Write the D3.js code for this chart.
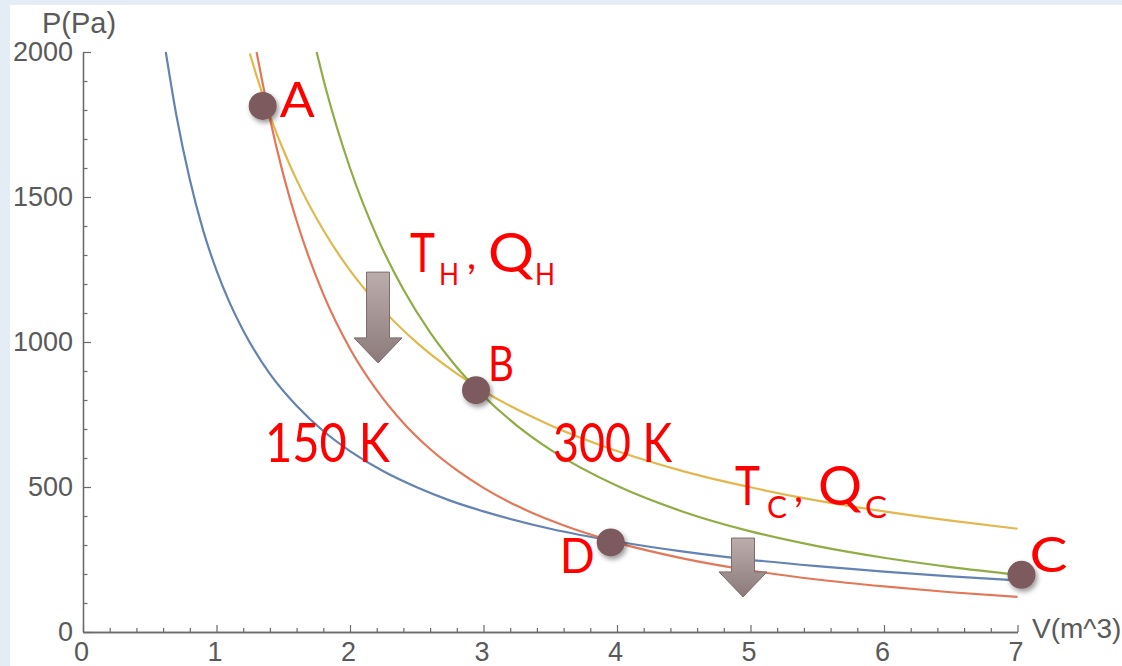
<!DOCTYPE html>
<html>
<head>
<meta charset="utf-8">
<script src="https://cdn.jsdelivr.net/npm/d3@7/dist/d3.min.js"></script>
<style>
  html, body { margin: 0; padding: 0; background: #e4ecf5; }
  svg { display: block; }
</style>
</head>
<body>
<svg id="chart" width="1122" height="666"></svg>
<script>
// ---------------- DATA ----------------
const xTicks = [0, 1, 2, 3, 4, 5, 6, 7];
const yTicks = [0, 500, 1000, 1500, 2000];
const xLabel = "V(m^3)";
const yLabel = "P(Pa)";

// 150 K isotherm (blue)
const vBlue = [0.62, 0.7, 0.8, 0.9, 1.0, 1.1, 1.2, 1.4, 1.6, 1.8, 2.0, 2.25, 2.5, 2.75, 3.0, 3.5, 4.0, 4.5, 5.0, 5.5, 6.0, 6.5, 7.0];
const pBlue = [2000, 1780, 1560, 1385, 1247, 1134, 1040, 890, 780, 693, 624, 554, 499, 453, 416, 356, 312, 277, 249, 227, 208, 192, 178];

// 300 K isotherm (yellow)
const vYellow = [1.25, 1.3, 1.4, 1.5, 1.6, 1.8, 2.0, 2.2, 2.5, 2.8, 3.0, 3.5, 4.0, 4.5, 5.0, 5.5, 6.0, 6.5, 7.0];
const pYellow = [1995, 1918, 1781, 1663, 1559, 1386, 1247, 1134, 998, 891, 831, 713, 624, 554, 499, 453, 416, 384, 356];

// adiabat B-C (green)
const vGreen = [1.75, 1.8, 1.9, 2.0, 2.2, 2.4, 2.6, 2.8, 3.0, 3.25, 3.5, 4.0, 4.5, 5.0, 5.5, 6.0, 6.5, 7.0];
const pGreen = [2000, 1907, 1743, 1600, 1365, 1181, 1033, 913, 814, 712, 629, 504, 414, 347, 296, 256, 224, 198];

// adiabat D-A (red)
const vRed = [1.30, 1.35, 1.4, 1.5, 1.6, 1.8, 2.0, 2.2, 2.4, 2.6, 2.8, 3.0, 3.25, 3.5, 4.0, 4.5, 5.0, 5.5, 6.0, 6.5, 7.0];
const pRed = [2000, 1882, 1771, 1578, 1418, 1165, 977, 834, 721, 631, 558, 497, 435, 385, 308, 253, 212, 181, 157, 137, 121];

// cycle states
const stateNames = ["A", "B", "C", "D"];
const stateV = [1.346, 2.944, 7.03, 3.953];
const stateP = [1814, 834, 197, 309];

// temperature labels (text, V, P)
const tempText = ["150 K", "300 K"];
const tempV = [1.363, 3.521];
const tempP = [586, 586];

// heat labels
const heatMain = ["T", "Q", "T", "Q"];
const heatSub = ["H", "H", "C", "C"];
const heatV = [2.449, 3.034, 4.884, 5.506];
const heatP = [1241, 1241, 438, 438];

// down arrows (V centre, P top, P tip)
const arrowV = [2.21, 4.944];
const arrowTopP = [1241, 324];
const arrowTipP = [928, 121];

// ---------------- CHART ----------------
const svg = d3.select("#chart");
const W = 1122, H = 666;

svg.append("rect").attr("width", W).attr("height", H).attr("fill", "#e4ecf5");
svg.append("rect").attr("x", 10).attr("y", 5).attr("width", W - 10).attr("height", H - 5).attr("fill", "#ffffff");

const defs = svg.append("defs");
const shadow = defs.append("filter").attr("id", "shadow").attr("x", "-50%").attr("y", "-50%").attr("width", "200%").attr("height", "200%");
shadow.append("feDropShadow").attr("dx", 2).attr("dy", 3).attr("stdDeviation", 2.5)
  .attr("flood-color", "#000").attr("flood-opacity", 0.4);
const grad = defs.append("linearGradient").attr("id", "arrowGrad").attr("x1", 0).attr("y1", 0).attr("x2", 0).attr("y2", 1);
grad.append("stop").attr("offset", "0%").attr("stop-color", "#bcadad");
grad.append("stop").attr("offset", "100%").attr("stop-color", "#8c7a7a");

const x = d3.scaleLinear().domain([0, 7]).range([83, 1017.5]);
const y = d3.scaleLinear().domain([0, 2000]).range([632, 52]);

const axisColor = "#6a6a6a";
const tickFont = "'Liberation Sans', Arial, sans-serif";

// minor ticks
const minorX = d3.range(0, 7.0001, 0.2).filter(v => Math.abs(v - Math.round(v)) > 1e-6);
const minorY = d3.range(0, 2000.1, 100).filter(v => v % 500 !== 0);

const gxMinor = svg.append("g").attr("transform", `translate(0,${y(0)})`)
  .call(d3.axisBottom(x).tickValues(minorX).tickSizeInner(-4).tickSizeOuter(0).tickFormat(""));
const gyMinor = svg.append("g").attr("transform", `translate(${x(0)},0)`)
  .call(d3.axisLeft(y).tickValues(minorY).tickSizeInner(-4.5).tickSizeOuter(0).tickFormat(""));

const gx = svg.append("g").attr("transform", `translate(0,${y(0)})`)
  .call(d3.axisBottom(x).tickValues(xTicks).tickSizeInner(-7).tickSizeOuter(0).tickPadding(10).tickFormat(d3.format("d")));
const gy = svg.append("g").attr("transform", `translate(${x(0)},0)`)
  .call(d3.axisLeft(y).tickValues(yTicks).tickSizeInner(-8).tickSizeOuter(0).tickPadding(10).tickFormat(d3.format("d")));

[gxMinor, gyMinor, gx, gy].forEach(g => {
  g.selectAll("path.domain").attr("stroke", axisColor).attr("stroke-width", 1.3);
  g.selectAll(".tick line").attr("stroke", axisColor).attr("stroke-width", 1.2);
  g.selectAll(".tick text").attr("fill", "#5a5a5a").attr("font-family", tickFont).attr("font-size", 27);
});
gx.selectAll(".tick text").attr("dx", -2);

svg.append("text").attr("x", 42).attr("y", 33).text(yLabel)
  .attr("fill", "#5a5a5a").attr("font-family", tickFont).attr("font-size", 29);
svg.append("text").attr("x", 1032).attr("y", 638).text(xLabel)
  .attr("fill", "#5a5a5a").attr("font-family", tickFont).attr("font-size", 28);

// curves
const line = d3.line().x(d => x(d[0])).y(d => y(d[1])).curve(d3.curveMonotoneX);
const series = [
  { v: vBlue, p: pBlue, color: "#6482b2" },
  { v: vYellow, p: pYellow, color: "#e2b84e" },
  { v: vGreen, p: pGreen, color: "#8fac45" },
  { v: vRed, p: pRed, color: "#e3775a" }
];
svg.append("g").selectAll("path").data(series).join("path")
  .attr("d", s => line(s.v.map((v, i) => [v, s.p[i]])))
  .attr("fill", "none").attr("stroke", s => s.color).attr("stroke-width", 2.2);

// arrows
const shaftHalf = 11.5, headHalf = 24, headLen = 25;
svg.append("g").selectAll("path").data(arrowV.map((v, i) => ({ v, top: arrowTopP[i], tip: arrowTipP[i] })))
  .join("path")
  .attr("d", a => {
    const cx = x(a.v), t = y(a.top), tp = y(a.tip), hs = tp - headLen;
    return `M${cx - shaftHalf},${t} H${cx + shaftHalf} V${hs} H${cx + headHalf} L${cx},${tp} L${cx - headHalf},${hs} H${cx - shaftHalf} Z`;
  })
  .attr("fill", "url(#arrowGrad)").attr("stroke", "#7e6c6c").attr("stroke-width", 1);

// state dots
svg.append("g").selectAll("circle").data(stateNames.map((n, i) => ({ n, v: stateV[i], p: stateP[i] })))
  .join("circle")
  .attr("cx", d => x(d.v)).attr("cy", d => y(d.p)).attr("r", 14)
  .attr("fill", "#7b5a5d").attr("filter", "url(#shadow)");

// labels
const labFont = "Lato, 'Liberation Sans', Arial, sans-serif";
const labWeight = 400;
const red = "#ff0000";
const stateOffsets = [[17, 11, 35], [12, -9, 26], [8, -3, 38], [-51, 31, 35]];
svg.append("g").selectAll("text").data(stateNames.map((n, i) => ({ n, v: stateV[i], p: stateP[i], o: stateOffsets[i] })))
  .join("text")
  .attr("x", d => x(d.v) + d.o[0]).attr("y", d => y(d.p) + d.o[1])
  .attr("textLength", d => d.o[2]).attr("lengthAdjust", "spacingAndGlyphs")
  .attr("font-family", labFont).attr("font-weight", labWeight).attr("font-size", 49).attr("fill", red)
  .text(d => d.n);

const tempLen = [125, 119];
svg.append("g").selectAll("text").data(tempText.map((t, i) => ({ t, v: tempV[i], p: tempP[i], len: tempLen[i] })))
  .join("text")
  .attr("x", d => x(d.v)).attr("y", d => y(d.p))
  .attr("textLength", d => d.len).attr("lengthAdjust", "spacingAndGlyphs")
  .attr("font-family", labFont).attr("font-weight", labWeight).attr("font-size", 55).attr("fill", red)
  .text(d => d.t);

const heatMainLen = [25, 46, 25, 44];
const subDx = [29, 47, 32, 47];
const subLen = [20, 20, 20, 22];
const commaDx = [57, 0, 59, 0];
const hg = svg.append("g");
heatMain.forEach((m, i) => {
  const px = x(heatV[i]), py = y(heatP[i]);
  hg.append("text").attr("x", px).attr("y", py)
    .attr("textLength", heatMainLen[i]).attr("lengthAdjust", "spacingAndGlyphs")
    .attr("font-family", labFont).attr("font-weight", labWeight).attr("font-size", 54).attr("fill", red).text(m);
  hg.append("text").attr("x", px + subDx[i]).attr("y", py + 13)
    .attr("textLength", subLen[i]).attr("lengthAdjust", "spacingAndGlyphs")
    .attr("font-family", labFont).attr("font-weight", labWeight).attr("font-size", 31).attr("fill", red).text(heatSub[i]);
  if (m === "T") {
    hg.append("text").attr("x", px + commaDx[i]).attr("y", py - 3)
      .attr("font-family", labFont).attr("font-weight", labWeight).attr("font-size", 40).attr("fill", red).text(",");
  }
});
</script>
</body>
</html>
